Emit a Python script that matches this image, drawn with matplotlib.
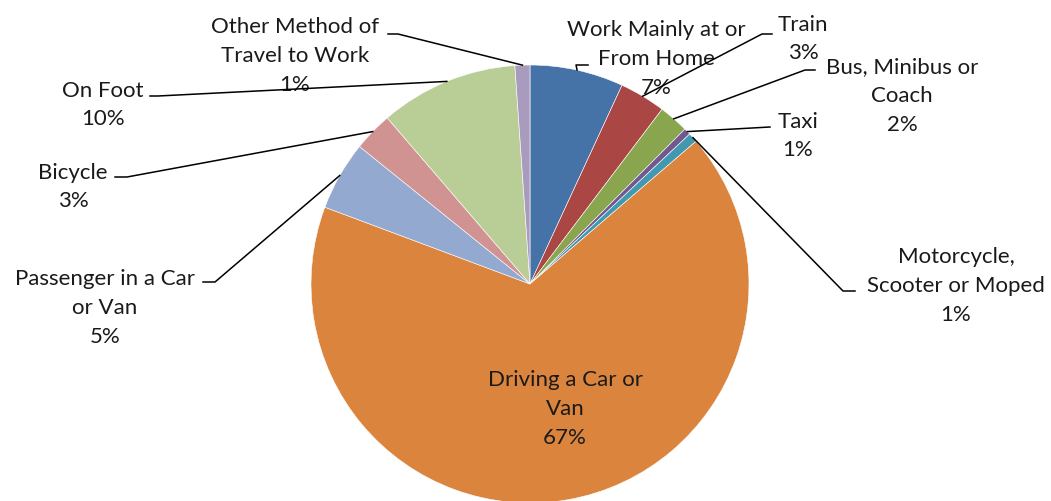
import numpy as np
import matplotlib
matplotlib.use("Agg")
import matplotlib.pyplot as plt

W, H = 1051, 502

categories = ["Work Mainly at or\nFrom Home", "Train", "Bus, Minibus or\nCoach", "Taxi",
              "Motorcycle,\nScooter or Moped", "Driving a Car or\nVan", "Passenger in a Car\nor Van",
              "Bicycle", "On Foot", "Other Method of\nTravel to Work"]
values = [6.9, 3.4, 2.2, 0.5, 0.7, 67.0, 5.1, 2.9, 10.2, 1.1]
pct_labels = ["7%", "3%", "2%", "1%", "1%", "67%", "5%", "3%", "10%", "1%"]
colors = ["#4572A7", "#AA4643", "#89A54E", "#71588F", "#4198AF", "#DB843D",
          "#93A9CF", "#D19392", "#B9CD96", "#A99BBD"]

# layout (pixel coords, y from top): label centre, leader elbow points
label_pos = [(656, 59), (803, 39), (902, 96), (798, 136), (956, 286), (565, 409),
             (105, 308), (73, 187), (103, 105), (295, 56)]
leader_pts = [[(576, 66), (588, 66)], [(762, 35), (772, 35)], [(805, 71), (815, 71)],
              [(770, 128)], [(843, 292), (855, 292)], None,
              [(215, 283), (203, 283)], [(127, 178), (115, 178)], [(158, 97), (150, 97)],
              [(398, 35), (388, 35)]]

cx, cy, R = 530, 285, 219

fig = plt.figure(figsize=(W / 100, H / 100), dpi=100)
ax = fig.add_axes([0, 0, 1, 1])
wedges, _ = ax.pie(values, colors=colors, startangle=90, counterclock=False,
                   center=(cx, H - cy), radius=R, frame=True,
                   wedgeprops=dict(edgecolor="white", linewidth=0.4))
ax.set_xlim(0, W)
ax.set_ylim(0, H)
ax.set_aspect("equal")
ax.axis("off")

font = ["Lato", "DejaVu Sans"]
for i, (w, cat, pct) in enumerate(zip(wedges, categories, pct_labels)):
    tx, ty = label_pos[i]
    ax.text(tx, H - ty, cat + "\n" + pct, ha="center", va="center", fontsize=16,
            family=font, color="#1a1a1a", linespacing=1.55, zorder=5)
    pts = leader_pts[i]
    if pts:
        ang = np.deg2rad((w.theta1 + w.theta2) / 2)
        sx = cx + R * np.cos(ang)
        sy = (H - cy) + R * np.sin(ang)
        xs = [sx] + [p[0] for p in pts]
        ys = [sy] + [H - p[1] for p in pts]
        ax.plot(xs, ys, color="black", lw=1.1, zorder=6)

fig.savefig("out.png", dpi=100)
